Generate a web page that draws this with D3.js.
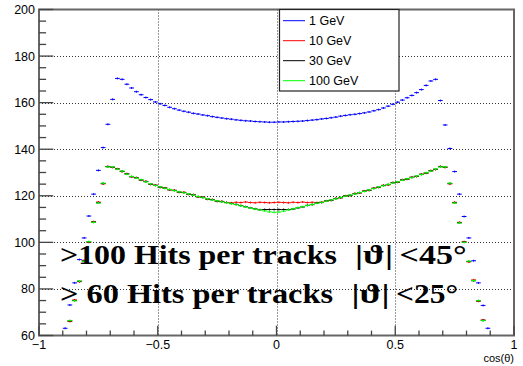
<!DOCTYPE html>
<html><head><meta charset="utf-8">
<script src="https://cdn.jsdelivr.net/npm/d3@7"></script>
<style>html,body{margin:0;padding:0;background:#fff}svg{display:block}</style>
</head><body>
<script>
// ---------- data ----------
const cosTheta = [-0.89,-0.87,-0.85,-0.83,-0.81,-0.79,-0.77,-0.75,-0.73,-0.71,-0.69,-0.67,-0.65,-0.63,-0.61,-0.59,-0.57,-0.55,-0.53,-0.51,-0.49,-0.47,-0.45,-0.43,-0.41,-0.39,-0.37,-0.35,-0.33,-0.31,-0.29,-0.27,-0.25,-0.23,-0.21,-0.19,-0.17,-0.15,-0.13,-0.11,-0.09,-0.07,-0.05,-0.03,-0.01,
 0.01,0.03,0.05,0.07,0.09,0.11,0.13,0.15,0.17,0.19,0.21,0.23,0.25,0.27,0.29,0.31,0.33,0.35,0.37,0.39,0.41,0.43,0.45,0.47,0.49,0.51,0.53,0.55,0.57,0.59,0.61,0.63,0.65,0.67,0.69,0.71,0.73,0.75,0.77,0.79,0.81,0.83,0.85,0.87,0.89];
const binWidth = 0.02;

const hits1GeV = [63.1,73.1,82.6,92.6,101.9,111.3,120.7,130.9,140.7,150.7,161.4,170.4,170.0,167.9,166.3,164.7,163.4,162.2,161.3,160.3,159.5,158.8,158.0,157.4,156.8,156.3,155.9,155.4,155.1,154.7,154.4,154.0,153.7,153.4,153.1,152.9,152.6,152.4,152.2,152.1,151.9,151.8,151.7,151.6,151.6,
 151.7,151.7,151.8,151.9,152.0,152.1,152.3,152.5,152.7,153.0,153.2,153.5,153.8,154.2,154.5,154.8,155.0,155.3,155.6,156.0,156.5,157.0,157.7,158.5,159.3,160.2,161.1,162.1,163.1,164.3,165.6,167.4,169.3,170.0,160.9,150.4,140.3,130.4,120.7,111.1,101.9,92.1,82.6,72.9,63.1];

const hits10GeV = [null,66.0,75.3,83.1,92.3,100.0,108.9,117.3,125.1,132.6,132.2,131.6,130.4,129.5,128.1,127.8,126.7,126.2,124.9,124.6,123.6,123.4,122.5,122.4,121.5,121.5,120.6,120.5,119.5,119.4,118.5,118.4,117.6,117.6,117.1,117.0,117.2,117.1,117.3,117.1,117.0,117.2,117.1,117.0,117.1,
 117.2,117.1,117.0,117.2,117.1,117.3,117.1,117.2,117.1,117.3,117.8,118.0,118.9,119.1,120.0,120.1,121.0,121.2,122.1,122.3,123.3,123.6,124.5,124.7,125.7,125.8,126.9,127.1,128.0,128.3,129.3,129.7,130.8,131.3,132.6,132.2,125.1,117.2,108.6,100.3,91.6,83.9,74.7,66.7,null];

const hits30GeV = [null,66.3,75.0,83.3,92.0,100.2,108.7,117.0,125.3,132.5,132.3,131.5,130.5,129.4,128.2,127.7,126.8,126.1,125.0,124.5,123.7,123.3,122.6,122.3,121.6,121.4,120.7,120.4,119.6,119.3,118.6,118.3,117.7,117.5,117.1,116.7,116.3,115.8,115.3,114.8,114.4,114.0,114.1,114.1,114.1,
 114.1,114.1,114.1,114.3,114.8,115.2,115.9,116.2,116.9,117.1,117.8,118.1,118.8,119.2,119.9,120.2,120.9,121.3,122.0,122.4,123.2,123.7,124.4,124.8,125.6,125.9,126.8,127.2,127.9,128.4,129.2,129.8,130.7,131.4,132.5,132.3,125.3,117.0,108.4,100.1,91.8,83.5,74.9,66.5,null];

const hits100GeV = [null,66.4,74.9,83.4,91.9,100.3,108.6,116.9,125.4,132.4,132.4,131.4,130.6,129.3,128.3,127.6,126.9,126.0,125.1,124.4,123.8,123.2,122.7,122.2,121.7,121.3,120.8,120.3,119.7,119.2,118.7,118.2,117.8,117.4,117.0,116.6,116.2,115.7,115.2,114.7,114.3,113.9,113.5,113.1,112.9,
 113.0,113.4,113.9,114.4,114.9,115.3,115.8,116.3,116.8,117.2,117.7,118.2,118.7,119.3,119.8,120.3,120.8,121.4,121.9,122.5,123.1,123.8,124.3,124.9,125.5,126.0,126.7,127.3,127.8,128.5,129.1,129.9,130.6,131.5,132.4,132.4,125.4,116.9,108.3,100.0,91.9,83.6,75.0,66.4,null];

const seriesNames = ["1 GeV","10 GeV","30 GeV","100 GeV"];
const seriesColors = ["#0000ff","#ff0000","#000000","#00ff00"];
const seriesValues = [hits1GeV, hits10GeV, hits30GeV, hits100GeV];

const xTicks = [-1,-0.5,0,0.5,1];
const xTickLabels = ["\u22121","\u22120.5","0","0.5","1"];
const yTicks = [60,80,100,120,140,160,180,200];
const xLabel = "cos(\u03b8)";
const textLines = [
  {main:">100 Hits per tracks", angle:"|\u03d1|", cut:"<45\u00b0"},
  {main:"> 60 Hits per tracks", angle:"|\u03d1|", cut:"<25\u00b0"}
];

// ---------- layout ----------
const W = 523, H = 366;
const L = 39, R = 514, T = 9.5, B = 335.5;
const svg = d3.select("body").append("svg").attr("width", W).attr("height", H);
const x = d3.scaleLinear().domain([-1, 1]).range([L, R]);
const y = d3.scaleLinear().domain([60, 200]).range([B, T]);

// grid
const grid = svg.append("g").attr("stroke", "#333").attr("stroke-width", 1).attr("stroke-dasharray", "1,2");
grid.selectAll("line.gy").data(yTicks.filter(v => v > 60 && v < 200)).join("line")
  .attr("x1", L).attr("x2", R).attr("y1", d => Math.round(y(d)) + 0.5).attr("y2", d => Math.round(y(d)) + 0.5);
grid.selectAll("line.gx").data(xTicks.filter(v => v > -1 && v < 1)).join("line")
  .attr("y1", T).attr("y2", B).attr("x1", d => Math.round(x(d)) + 0.5).attr("x2", d => Math.round(x(d)) + 0.5);

// histograms
seriesValues.forEach((vals, si) => {
  const g = svg.append("g").attr("stroke", seriesColors[si]).attr("stroke-width", 1);
  const pts = cosTheta.map((c, i) => ({c, v: vals[i]})).filter(d => d.v != null && d.v >= 60 && d.v <= 200);
  g.selectAll("line.h").data(pts).join("line")
    .attr("x1", d => x(d.c - binWidth / 2)).attr("x2", d => x(d.c + binWidth / 2))
    .attr("y1", d => y(d.v)).attr("y2", d => y(d.v));
  g.selectAll("line.e").data(pts).join("line")
    .attr("x1", d => x(d.c)).attr("x2", d => x(d.c))
    .attr("y1", d => y(d.v) - 1).attr("y2", d => y(d.v) + 1);
});

// frame
svg.append("rect").attr("x", L).attr("y", T).attr("width", R - L).attr("height", B - T)
  .attr("fill", "none").attr("stroke", "#666").attr("stroke-width", 2);

// ticks (inside)
const axG = svg.append("g").attr("stroke", "#444").attr("stroke-width", 1.3);
const xMinor = d3.range(-10, 11).map(k => k / 10);
axG.selectAll("line.xt").data(xMinor).join("line")
  .attr("x1", d => x(d)).attr("x2", d => x(d))
  .attr("y1", B).attr("y2", d => B - (Math.abs(d * 2 - Math.round(d * 2)) < 1e-6 ? 9.75 : 4.9));
const yMinor = d3.range(60, 201, 5);
axG.selectAll("line.yt").data(yMinor).join("line")
  .attr("y1", d => y(d)).attr("y2", d => y(d))
  .attr("x1", L).attr("x2", d => L + (d % 20 === 0 ? 14.25 : 7.1));

// tick labels
svg.append("g").attr("font-family", "Liberation Sans, Arial, sans-serif").attr("font-size", 12.5)
  .selectAll("text").data(yTicks).join("text")
  .attr("x", 35).attr("y", d => y(d)).attr("dy", "0.36em").attr("text-anchor", "end").text(d => d);
svg.append("g").attr("font-family", "Liberation Sans, Arial, sans-serif").attr("font-size", 12.5)
  .selectAll("text").data(xTicks).join("text")
  .attr("x", d => x(d)).attr("y", 348.5).attr("text-anchor", "middle").text((d, i) => xTickLabels[i]);
svg.append("text").attr("x", R).attr("y", 361.5).attr("text-anchor", "end")
  .attr("font-family", "Liberation Sans, Arial, sans-serif").attr("font-size", 11).text(xLabel);

// legend
const lg = svg.append("g");
lg.append("rect").attr("x", 279.5).attr("y", T).attr("width", 119.5).attr("height", 81.5)
  .attr("fill", "#fff").attr("stroke", "#222").attr("stroke-width", 1.2);
seriesNames.forEach((n, i) => {
  const ly = 20.7 + i * 20;
  lg.append("line").attr("x1", 283).attr("x2", 305).attr("y1", ly).attr("y2", ly)
    .attr("stroke", seriesColors[i]).attr("stroke-width", 1);
  lg.append("text").attr("x", 309).attr("y", ly + 4.5).attr("font-family", "Liberation Sans, Arial, sans-serif")
    .attr("font-size", 12.5).text(n);
});

// big annotation text
const spec = [
  {y: 264, main: [60, 277], angle: [355, 38], cut: [399.5, 67]},
  {y: 303, main: [60, 273], angle: [351.5, 38], cut: [396, 62]}
];
textLines.forEach((t, i) => {
  const s = spec[i];
  [["main", s.main], ["angle", s.angle], ["cut", s.cut]].forEach(([k, pos]) => {
    svg.append("text").attr("x", pos[0]).attr("y", s.y)
      .attr("font-family", "Liberation Serif, Times New Roman, serif").attr("font-weight", "bold")
      .attr("font-size", 28).attr("textLength", pos[1]).attr("lengthAdjust", "spacingAndGlyphs")
      .text(t[k]);
  });
});
</script>
</body></html>
